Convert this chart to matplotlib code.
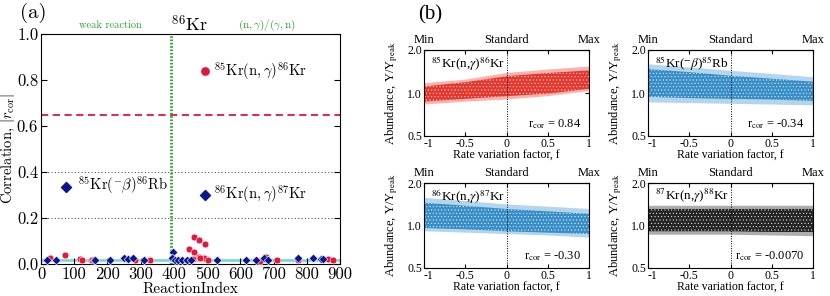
import matplotlib
matplotlib.use("Agg")
import matplotlib.pyplot as plt
import numpy as np

plt.rcParams['axes.unicode_minus'] = False
plt.rcParams['hatch.linewidth'] = 0.35

# ---------------- Panel (a) data ----------------
red_idx = [26, 71, 118, 122, 150, 153, 283, 328, 446, 460, 460, 476, 475, 493,
           458, 490, 503, 480, 659, 677, 709, 864, 879, 775]
red_cor = [0.024, 0.039, 0.020, 0.019, 0.016, 0.017, 0.018, 0.016, 0.064, 0.116,
           0.053, 0.105, 0.031, 0.086, 0.022, 0.027, 0.019, 0.024, 0.015, 0.032,
           0.016, 0.022, 0.016, 0.018]
blue_idx = [18, 46, 160, 163, 208, 250, 263, 276, 310, 398, 393, 403, 413, 423,
            438, 453, 530, 617, 647, 670, 683, 773, 818, 842, 849]
blue_cor = [0.019, 0.016, 0.018, 0.018, 0.018, 0.024, 0.021, 0.027, 0.018, 0.052,
            0.027, 0.019, 0.018, 0.018, 0.018, 0.018, 0.018, 0.018, 0.018, 0.028,
            0.018, 0.024, 0.024, 0.022, 0.022]
lab_red_idx, lab_red_cor = [495], [0.84]
lab_blue_idx = [75, 495]
lab_blue_cor = [0.335, 0.298]
threshold = 0.65
split_index = 390
baseline = 0.018
xticks_a = [0, 100, 200, 300, 400, 500, 600, 700, 800, 900]
yticks_a = [0.0, 0.2, 0.4, 0.6, 0.8, 1.0]

# ---------------- Panel (b) data (band edges read from the clouds) ----------------
f_pts = [-1.0, -0.5, 0.0, 0.5, 1.0]
bands = [
    dict(label=r"$^{85}$Kr(n,$\gamma$)$^{86}$Kr", r=r"r$_{\rm cor}$ = 0.84", color="#e8281f",
         out_lo=[0.83, 0.87, 0.90, 0.95, 1.03], in_lo=[0.87, 0.91, 0.95, 0.99, 1.07],
         in_hi=[1.11, 1.19, 1.31, 1.38, 1.44], out_hi=[1.17, 1.24, 1.38, 1.46, 1.53]),
    dict(label=r"$^{85}$Kr($^{-}\beta$)$^{85}$Rb", r=r"r$_{\rm cor}$ = -0.34", color="#2a87c6",
         out_lo=[0.86, 0.85, 0.84, 0.83, 0.82], in_lo=[0.94, 0.92, 0.91, 0.90, 0.88],
         in_hi=[1.47, 1.40, 1.32, 1.26, 1.20], out_hi=[1.59, 1.51, 1.43, 1.36, 1.29]),
    dict(label=r"$^{86}$Kr(n,$\gamma$)$^{87}$Kr", r=r"r$_{\rm cor}$ = -0.30", color="#2a87c6",
         out_lo=[0.91, 0.89, 0.87, 0.85, 0.82], in_lo=[0.96, 0.94, 0.91, 0.89, 0.87],
         in_hi=[1.45, 1.38, 1.31, 1.26, 1.21], out_hi=[1.57, 1.49, 1.41, 1.36, 1.31]),
    dict(label=r"$^{87}$Kr(n,$\gamma$)$^{88}$Kr", r=r"r$_{\rm cor}$ = -0.0070", color="#151515",
         out_lo=[0.86, 0.86, 0.86, 0.85, 0.84], in_lo=[0.91, 0.91, 0.91, 0.90, 0.90],
         in_hi=[1.31, 1.31, 1.31, 1.31, 1.31], out_hi=[1.38, 1.38, 1.38, 1.38, 1.38]),
]
xticks_b = [-1, -0.5, 0, 0.5, 1]
xticklabels_b = ["-1", "-0.5", "0", "0.5", "1"]
yticks_b = [0.5, 1.0, 2.0]
top_labels = ["Min", "Standard", "Max"]

W, H = 830, 296
fig = plt.figure(figsize=(W / 100, H / 100), dpi=100)

def rect(l, t, r, b):
    return [l / W, 1 - b / H, (r - l) / W, (b - t) / H]

# ---------------- Panel (a) ----------------
CM = 'cmr10'
GREEN = '#2e9e2e'
RED = '#e2173b'
NAVY = '#0b168f'
ax = fig.add_axes(rect(41, 34, 340, 264))
ax.set_xlim(0, 900)
ax.set_ylim(0, 1.0)
ax.axhline(baseline, color='#7fd8d8', lw=2.0, zorder=1)
for g in [0.2, 0.4]:
    ax.axhline(g, color='#555555', lw=0.8, ls=(0, (1, 2)), zorder=1)
ax.axhline(threshold, color=RED, lw=1.3, ls=(0, (4, 2.5)), zorder=2)
ax.axvline(split_index, color=GREEN, lw=2.0, ls=(0, (0.6, 0.6)), zorder=2)
ax.scatter(red_idx, red_cor, s=24, marker='o', color=RED, edgecolors='white', linewidths=0.4, zorder=3)
ax.scatter(blue_idx, blue_cor, s=20, marker='D', color=NAVY, edgecolors='white', linewidths=0.4, zorder=4)
ax.scatter(lab_red_idx, lab_red_cor, s=28, marker='o', color=RED, zorder=5)
ax.scatter(lab_blue_idx, lab_blue_cor, s=26, marker='D', color=NAVY, zorder=5)
tk = dict(fontsize=10.5, math_fontfamily='cm', family=CM, va='center')
ax.text(520, 0.84, r"$^{85}\mathrm{Kr}(\mathrm{n},\gamma)^{86}\mathrm{Kr}$", **tk)
ax.text(112, 0.345, r"$^{85}\mathrm{Kr}(^{-}\beta)^{86}\mathrm{Rb}$", **tk)
ax.text(520, 0.305, r"$^{86}\mathrm{Kr}(\mathrm{n},\gamma)^{87}\mathrm{Kr}$", **tk)
ax.set_xticks(xticks_a)
ax.set_yticks(yticks_a)
ax.set_xticklabels([str(v) for v in xticks_a])
ax.set_yticklabels([f"{v:.1f}" for v in yticks_a])
ax.tick_params(direction='in', right=True, top=False, labelsize=12, length=4, pad=2)
for lab in ax.get_xticklabels() + ax.get_yticklabels():
    lab.set_fontfamily(CM)
ax.set_xlabel("ReactionIndex", family=CM, fontsize=11, labelpad=0)
ax.set_ylabel(r"Correlation, $|r_{\rm cor}|$", family=CM, fontsize=10.5, math_fontfamily='cm', labelpad=0)
fig.text(33 / W, 1 - 13 / H, "(a)", family=CM, fontsize=15, ha='center', va='center')
fig.text(110 / W, 1 - 25 / H, "weak reaction", family=CM, fontsize=7.5, color=GREEN, ha='center', va='center')
fig.text(190 / W, 1 - 25 / H, r"$^{86}\mathrm{Kr}$", fontsize=13, math_fontfamily='cm', ha='center', va='center')
fig.text(267 / W, 1 - 25 / H, r"$(\mathrm{n},\gamma)/(\gamma,\mathrm{n})$", fontsize=8, color=GREEN,
         math_fontfamily='cm', ha='center', va='center')

# ---------------- Panel (b) ----------------
SER = 'Liberation Serif'
rects_b = [rect(424, 50, 589, 136), rect(648, 50, 813, 136),
           rect(424, 183, 589, 268), rect(648, 183, 813, 268)]
for i, (rb, d) in enumerate(zip(rects_b, bands)):
    bx = fig.add_axes(rb)
    bx.set_yscale('log')
    bx.set_xlim(-1, 1)
    bx.set_ylim(0.5, 2.0)
    bx.fill_between(f_pts, d['out_lo'], d['out_hi'], facecolor=d['color'], alpha=0.35, lw=0, zorder=1)
    bx.fill_between(f_pts, d['in_lo'], d['in_hi'], facecolor=d['color'], edgecolor='white',
                    hatch='.....', alpha=0.9, lw=0, zorder=2)
    bx.axvline(0, color='black', lw=0.7, ls=(0, (1, 1.5)), zorder=3)
    bx.set_xticks(xticks_b)
    bx.set_xticklabels(xticklabels_b)
    bx.set_yticks(yticks_b)
    bx.set_yticklabels([f"{v:.1f}" for v in yticks_b])
    bx.yaxis.set_minor_locator(matplotlib.ticker.NullLocator())
    bx.tick_params(direction='in', right=True, top=True, labelsize=8.5, length=3, pad=1.5)
    for lab in bx.get_xticklabels() + bx.get_yticklabels():
        lab.set_fontfamily(SER)
    bx.get_xticklabels()[0].set_horizontalalignment('left')
    sec = bx.secondary_xaxis('top')
    sec.set_xticks([-1, 0, 1])
    sec.set_xticklabels(top_labels, family=SER, fontsize=9)
    sec.tick_params(length=0, pad=3)
    bx.set_xlabel("Rate variation factor, f", family=SER, fontsize=8.5, labelpad=0)
    bx.set_ylabel(r"Abundance, Y/Y$_{\rm peak}$", family=SER, fontsize=9, math_fontfamily='stix', labelpad=5)
    bx.text(0.04, 0.95, d['label'], transform=bx.transAxes, family=SER, math_fontfamily='stix',
            fontsize=9.5, ha='left', va='top', zorder=5)
    bx.text(0.95, 0.06, d['r'], transform=bx.transAxes, family=SER, math_fontfamily='stix',
            fontsize=9, ha='right', va='bottom', zorder=5)
fig.text(430 / W, 1 - 15 / H, "(b)", family=SER, fontsize=15, ha='center', va='center')

fig.savefig("out.png", dpi=100)
